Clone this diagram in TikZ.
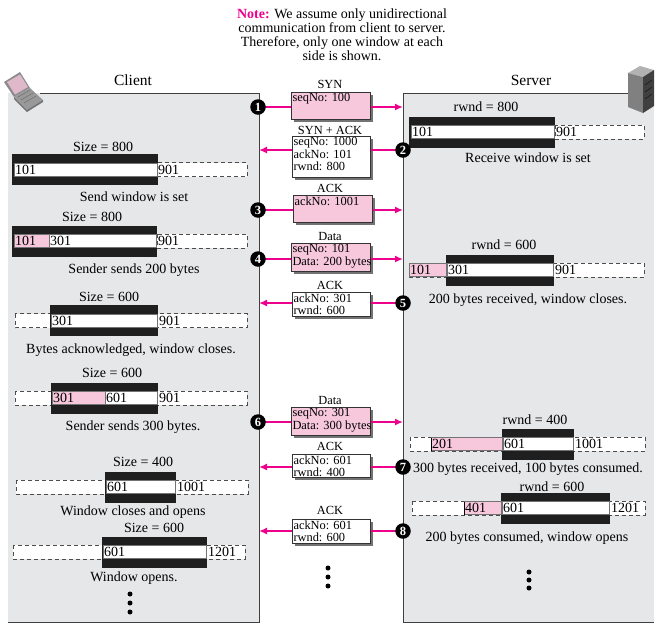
\documentclass[tikz,border=0pt]{standalone}
\usepackage{fontspec}
\setmainfont{Liberation Serif}
\usetikzlibrary{arrows.meta,shadows}
\definecolor{flowpink}{RGB}{236,0,140}
\definecolor{cellpink}{RGB}{247,200,220}
\definecolor{panelgray}{RGB}{230,231,232}
\newcommand\stripw[3]{\draw[dashstrip] (#2,#1-7) rectangle (#3,#1+7);}
\newcommand\blackw[3]{\fill[black!88] (#2,#1-15.5) rectangle (#3,#1+15.5);}
\newcommand\cellw[4]{\draw[cell,fill=#4] (#2,#1-6.5) rectangle (#3,#1+6.5);}
\tikzset{
 lbl/.style={font=\fontsize{14}{14}\selectfont, inner sep=0},
 numtxt/.style={font=\fontsize{14}{14}\selectfont, inner sep=1pt, anchor=west},
 boxtxt/.style={font=\fontsize{12.4}{12.6}\selectfont, inner sep=1.3pt, anchor=north west, align=left},
 boxlbl/.style={font=\fontsize{12.4}{12.4}\selectfont, inner sep=0},
 msgbox/.style={draw=black!80, line width=0.8pt, drop shadow={shadow xshift=2.5pt, shadow yshift=-2.5pt, fill=black!55, opacity=1}, anchor=north west, inner sep=0},
 pinkbox/.style={msgbox, fill=cellpink},
 whitebox/.style={msgbox, fill=white},
 numc/.style={circle, fill=black, text=white, font=\fontsize{12.5}{12.5}\selectfont\bfseries, inner sep=0, minimum size=15.5pt},
 flow/.style={draw=flowpink, line width=1.8pt},
 flowarr/.style={flow, -{Latex[length=8pt,width=7pt]}},
 dashstrip/.style={draw=black!70, dash pattern=on 4pt off 3pt, fill=white, line width=0.8pt},
 cell/.style={draw=black!55, line width=0.8pt},
 panelline/.style={draw=black!75, line width=1pt},
 dot/.style={circle, fill=black, inner sep=0, minimum size=5pt},
}
\begin{document}
\begin{tikzpicture}[x=1pt,y=-1pt]
\useasboundingbox (0,0) rectangle (666,633);
% panels
\fill[panelgray] (8,93) rectangle (259,622);
\fill[panelgray] (403,93) rectangle (654,622);
\draw[panelline] (40,93) -- (259,93) -- (259,622) -- (8,622);
\draw[panelline] (628,93) -- (403,93) -- (403,622) -- (654,622);
% laptop icon
\fill[black!45] (4,82) -- (20,72) -- (30,88) -- (14,97) -- cycle;
\fill[cellpink!80!gray] (7,82) -- (20,74.5) -- (28,87) -- (15,94.5) -- cycle;
\fill[black!40] (14,97) -- (30,88) -- (43,100) -- (27,110) -- cycle;
\fill[black!55] (27,110) -- (43,100) -- (43,102) -- (27,112) -- cycle;
\fill[black!55] (14,97) -- (27,110) -- (27,112) -- (14,99) -- cycle;
\draw[black!60, line width=0.4pt] (18,97) -- (30,90) (21,100) -- (33,93) (24,103) -- (36,96);
% server icon
\fill[black!30] (628,73) -- (640,66) -- (654,70) -- (643,77) -- cycle;
\fill[black!50] (628,73) -- (643,77) -- (643,113) -- (628,107) -- cycle;
\fill[black!75] (643,77) -- (654,70) -- (654,106) -- (643,113) -- cycle;
\draw[black!90, line width=0.6pt] (645,85) -- (652,80) (645,92) -- (652,87) (645,99) -- (652,94);
% titles
\node[font=\fontsize{14}{14}\selectfont, align=center, inner sep=0] (note) at (342,35)
 {\textcolor{flowpink}{\textbf{Note:}} We assume only unidirectional\\communication from client to server.\\Therefore, only one window at each\\side is shown.};
\node[font=\fontsize{15.5}{15.5}\selectfont, inner sep=0] (client) at (133,80) {Client};
\node[font=\fontsize{15.5}{15.5}\selectfont, inner sep=0] (server) at (531,80) {Server};

% ---------- client windows ----------
% W1
\node[lbl] (cs1) at (103,147) {Size = 800};
\stripw{169.5}{157}{247}
\blackw{169.5}{12}{158}
\cellw{169.5}{14}{157}{white}
\node[numtxt] (c1a) at (14,169.5) {101};
\node[numtxt] (c1b) at (157,169.5) {901};
\node[lbl] (cc1) at (134,197) {Send window is set};
% W2
\node[lbl] (cs2) at (92,217) {Size = 800};
\stripw{241}{157}{247}
\blackw{241}{12}{157}
\cellw{241}{14}{49}{cellpink}
\cellw{241}{49}{156}{white}
\node[numtxt] (c2a) at (14,241) {101};
\node[numtxt] (c2b) at (49,241) {301};
\node[numtxt] (c2c) at (157,241) {901};
\node[lbl] (cc2) at (134,270) {Sender sends 200 bytes};
% W3
\node[lbl] (cs3) at (109,297) {Size = 600};
\stripw{320.5}{15}{247}
\blackw{320.5}{50}{158}
\cellw{320.5}{51}{157}{white}
\node[numtxt] (c3a) at (51,320.5) {301};
\node[numtxt] (c3b) at (158,320.5) {901};
\node[lbl] (cc3) at (131,350) {Bytes acknowledged, window closes.};
% W4
\node[lbl] (cs4) at (112,373) {Size = 600};
\stripw{398}{15}{247}
\blackw{398}{51}{158}
\cellw{398}{52}{105}{cellpink}
\cellw{398}{105}{157}{white}
\node[numtxt] (c4a) at (52,398) {301};
\node[numtxt] (c4b) at (105,398) {601};
\node[numtxt] (c4c) at (158,398) {901};
\node[lbl] (cc4) at (133,427) {Sender sends 300 bytes.};
% W5
\node[lbl] (cs5) at (143,462) {Size = 400};
\stripw{487}{16}{248}
\blackw{487}{105}{176}
\cellw{487}{106}{175}{white}
\node[numtxt] (c5a) at (106,487) {601};
\node[numtxt] (c5b) at (176,487) {1001};
\node[lbl] (cc5) at (133,512) {Window closes and opens};
% W6
\node[lbl] (cs6) at (154,528) {Size = 600};
\stripw{552}{13}{245}
\blackw{552}{102}{207}
\cellw{552}{103}{206}{white}
\node[numtxt] (c6a) at (103,552) {601};
\node[numtxt] (c6b) at (207,552) {1201};
\node[lbl] (cc6) at (134,578) {Window opens.};
\node[dot] (cd1) at (130,594) {};
\node[dot] (cd2) at (130,603) {};
\node[dot] (cd3) at (130,612) {};

% ---------- server windows ----------
% S1
\node[lbl] (ss1) at (486,107) {rwnd = 800};
\stripw{132}{555}{644}
\blackw{132}{409}{555}
\cellw{132}{411}{554}{white}
\node[numtxt] (s1a) at (411,132) {101};
\node[numtxt] (s1b) at (555,132) {901};
\node[lbl] (sc1) at (528,158) {Receive window is set};
% S2
\node[lbl] (ss2) at (504,245) {rwnd = 600};
\stripw{270}{409}{644}
\blackw{270}{446}{554}
\cellw{270}{409}{446}{cellpink}
\cellw{270}{447}{553}{white}
\node[numtxt] (s2a) at (409,270) {101};
\node[numtxt] (s2b) at (447,270) {301};
\node[numtxt] (s2c) at (554,270) {901};
\node[lbl] (sc2) at (528,300) {200 bytes received, window closes.};
% S3
\node[lbl] (ss3) at (535,420) {rwnd = 400};
\stripw{444}{410}{645}
\blackw{444}{502}{574}
\cellw{444}{431}{502}{cellpink}
\cellw{444}{503}{573}{white}
\draw[black, line width=1pt] (431,437.5) -- (431,450.5);
\node[numtxt] (s3a) at (431,444) {201};
\node[numtxt] (s3b) at (503,444) {601};
\node[numtxt] (s3c) at (574,444) {1001};
\node[lbl] (sc3) at (528,469) {300 bytes received, 100 bytes consumed.};
% S4
\node[lbl] (ss4) at (552,487) {rwnd = 600};
\stripw{508}{412}{645}
\blackw{508}{501}{610}
\cellw{508}{464}{501}{cellpink}
\cellw{508}{502}{609}{white}
\draw[black, line width=1pt] (464,501.5) -- (464,514.5);
\node[numtxt] (s4a) at (464,508) {401};
\node[numtxt] (s4b) at (502,508) {601};
\node[numtxt] (s4c) at (610,508) {1201};
\node[lbl] (sc4) at (527,538) {200 bytes consumed, window opens};
\node[dot] (sd1) at (529,572) {};
\node[dot] (sd2) at (529,580) {};
\node[dot] (sd3) at (529,588) {};

% ---------- messages ----------
\node[pinkbox, minimum width=79pt, minimum height=27pt] (m1) at (291,92) {};
\node[boxtxt] (m1t) at (m1.north west) {seqNo: 100};
\node[boxlbl] (m1l) at (330,84) {SYN};
\node[whitebox, minimum width=78pt, minimum height=41pt] (m2) at (292,136) {};
\node[boxtxt] (m2t) at (m2.north west) {seqNo: 1000\\ackNo: 101\\rwnd: 800};
\node[boxlbl] (m2l) at (330,130) {SYN + ACK};
\node[pinkbox, minimum width=79pt, minimum height=27pt] (m3) at (293,195) {};
\node[boxtxt] (m3t) at (m3.north west) {ackNo: 1001};
\node[boxlbl] (m3l) at (330,188) {ACK};
\node[pinkbox, minimum width=79pt, minimum height=28pt] (m4) at (291,243) {};
\node[boxtxt] (m4t) at (m4.north west) {seqNo: 101\\Data: 200 bytes};
\node[boxlbl] (m4l) at (330,236) {Data};
\node[whitebox, minimum width=78pt, minimum height=24pt] (m5) at (292,292) {};
\node[boxtxt] (m5t) at (m5.north west) {ackNo: 301\\rwnd: 600};
\node[boxlbl] (m5l) at (330,285) {ACK};
\node[pinkbox, minimum width=79pt, minimum height=28pt] (m6) at (291,407) {};
\node[boxtxt] (m6t) at (m6.north west) {seqNo: 301\\Data: 300 bytes};
\node[boxlbl] (m6l) at (330,400) {Data};
\node[whitebox, minimum width=78pt, minimum height=23pt] (m7) at (292,454) {};
\node[boxtxt] (m7t) at (m7.north west) {ackNo: 601\\rwnd: 400};
\node[boxlbl] (m7l) at (330,446) {ACK};
\node[whitebox, minimum width=78pt, minimum height=24pt] (m8) at (292,519) {};
\node[boxtxt] (m8t) at (m8.north west) {ackNo: 601\\rwnd: 600};
\node[boxlbl] (m8l) at (330,510) {ACK};
\node[dot] (md1) at (328,568) {};
\node[dot] (md2) at (328,577) {};
\node[dot] (md3) at (328,586) {};

% arrow end points
\coordinate (e1) at (403,107);
\coordinate (e2) at (259,150);
\coordinate (e3) at (403,210);
\coordinate (e4) at (403,259);
\coordinate (e5) at (259,303);
\coordinate (e6) at (403,422);
\coordinate (e7) at (259,467);
\coordinate (e8) at (259,531);

% flows
\draw[flow] (258,107) -- (e1 -| m1.west);
\draw[flowarr] (e1 -| m1.east) -- (e1);
\draw[flow] (403,150) -- (e2 -| m2.east);
\draw[flowarr] (e2 -| m2.west) -- (e2);
\draw[flow] (258,210) -- (e3 -| m3.west);
\draw[flowarr] (e3 -| m3.east) -- (e3);
\draw[flow] (258,259) -- (e4 -| m4.west);
\draw[flowarr] (e4 -| m4.east) -- (e4);
\draw[flow] (403,303) -- (e5 -| m5.east);
\draw[flowarr] (e5 -| m5.west) -- (e5);
\draw[flow] (258,422) -- (e6 -| m6.west);
\draw[flowarr] (e6 -| m6.east) -- (e6);
\draw[flow] (403,467) -- (e7 -| m7.east);
\draw[flowarr] (e7 -| m7.west) -- (e7);
\draw[flow] (403,531) -- (e8 -| m8.east);
\draw[flowarr] (e8 -| m8.west) -- (e8);

% numbered circles
\node[numc] (n1) at (258,107) {1};
\node[numc] (n2) at (403,150) {2};
\node[numc] (n3) at (258,210) {3};
\node[numc] (n4) at (258,259) {4};
\node[numc] (n5) at (403,303) {5};
\node[numc] (n6) at (258,422) {6};
\node[numc] (n7) at (403,467) {7};
\node[numc] (n8) at (403,531) {8};
\end{tikzpicture}
\end{document}
